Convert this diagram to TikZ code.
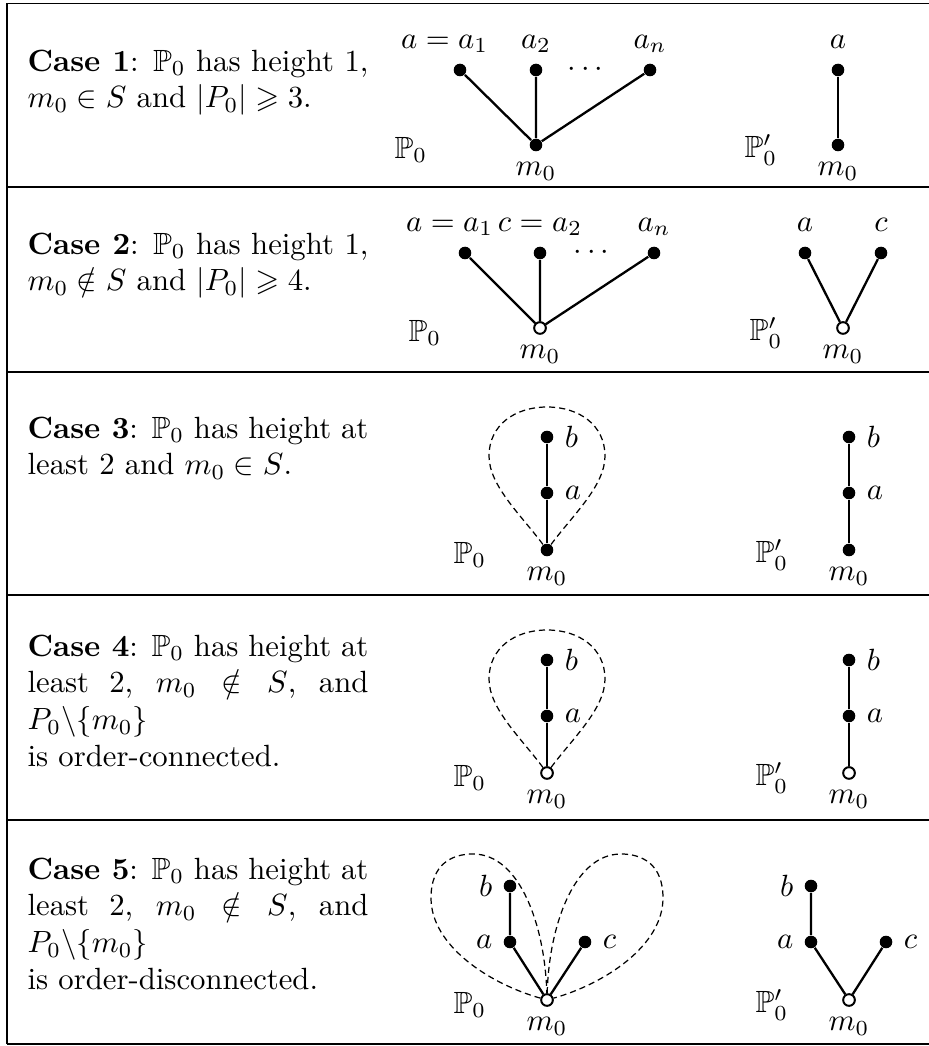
\documentclass[tikz,border=0pt]{standalone}
\usepackage{amsmath,amssymb}
\usetikzlibrary{calc,positioning}
\tikzset{
  fulldot/.style={circle, fill, inner sep=0pt, minimum size=4.1pt},
  opendot/.style={circle, draw, fill=white, line width=0.65pt, inner sep=0pt, minimum size=3.8pt},
  poline/.style={line width=0.75pt},
  hull/.style={line width=0.4pt, dash pattern=on 2pt off 1.3pt},
  rowrule/.style={line width=0.5pt},
  casetext/.style={anchor=north west, inner sep=0pt, text width=111pt, align=justify},
  lab/.style={text depth=0.3ex}
}
\newcommand{\hulldrop}[1]{% dashed teardrop above the minimum #1
  \draw[hull] (#1) .. controls ($(#1)+(-25,34)$) and ($(#1)+(-58,64)$) .. ($(#1)+(-58,94)$)
    .. controls ($(#1)+(-58,125)$) and ($(#1)+(-32,143)$) .. ($(#1)+(0,143)$)
    .. controls ($(#1)+(32,143)$) and ($(#1)+(58,125)$) .. ($(#1)+(58,94)$)
    .. controls ($(#1)+(58,64)$) and ($(#1)+(25,34)$) .. (#1);
}
\begin{document}
\begin{tikzpicture}[x=0.3257pt,y=0.3257pt]
  \useasboundingbox (0,0) rectangle (929,1046);
  % table rules
  \foreach \y in {1042.5,859,674,451,226,2}
    \draw[rowrule] (7,\y) -- (929,\y);
  \draw[rowrule] (7,2) -- (7,1042.5);

  % case texts
  \node[casetext] (t1) at (27,997) {\textbf{Case 1}: $\mathbb{P}_0$ has height 1,\linebreak $m_0\in S$ and $|P_0|\geqslant 3$.};
  \node[casetext] (t2) at (27,814) {\textbf{Case 2}: $\mathbb{P}_0$ has height 1,\linebreak $m_0\notin S$ and $|P_0|\geqslant 4$.};
  \node[casetext] (t3) at (27,630) {\textbf{Case 3}: $\mathbb{P}_0$ has height at\linebreak least 2 and $m_0\in S$.};
  \node[casetext] (t4) at (27,412) {\textbf{Case 4}: $\mathbb{P}_0$ has height at\linebreak least 2, $m_0\notin S$, and\linebreak $P_0\backslash\{m_0\}$\newline is order-connected.};
  \node[casetext] (t5) at (27,189) {\textbf{Case 5}: $\mathbb{P}_0$ has height at\linebreak least 2, $m_0\notin S$, and\linebreak $P_0\backslash\{m_0\}$\newline is order-disconnected.};

  % case 1
  \node[fulldot] (a1) at (460,976) {};
  \node[fulldot] (a2) at (536,976) {};
  \node[fulldot] (an) at (650,976) {};
  \node[fulldot] (m1) at (536,901) {};
  \draw[poline] (a1) -- (m1) (a2) -- (m1) (an) -- (m1);
  \node[lab, above=0pt of a1, xshift=-5pt] (la1) {$a=a_1$};
  \node[lab, above=0pt of a2] (la2) {$a_2$};
  \node[lab, above=0pt of an] (lan) {$a_n$};
  \node (d1) at (588,976) {$\cdots$};
  \node[below=0pt of m1] (lm1) {$m_0$};
  \node (P1) at (411,896) {$\mathbb{P}_0$};
  \node[fulldot] (q1a) at (838,976) {};
  \node[fulldot] (q1m) at (838,901) {};
  \draw[poline] (q1a) -- (q1m);
  \node[lab, above=0pt of q1a] (lq1a) {$a$};
  \node[below=0pt of q1m] (lq1m) {$m_0$};
  \node (Q1) at (761,896) {$\mathbb{P}'_0$};

  % case 2
  \node[fulldot] (b1) at (465,793) {};
  \node[fulldot] (b2) at (540,793) {};
  \node[fulldot] (bn) at (654,793) {};
  \node[opendot] (m2) at (540,718) {};
  \draw[poline] (b1) -- (m2) (b2) -- (m2) (bn) -- (m2);
  \node[lab, above=0pt of b1, xshift=-5pt] (lb1) {$a=a_1$};
  \node[lab, above=0pt of b2] (lb2) {$c=a_2$};
  \node[lab, above=0pt of bn] (lbn) {$a_n$};
  \node (d2) at (594,793) {$\cdots$};
  \node[below=0pt of m2] (lm2) {$m_0$};
  \node (P2) at (425,713) {$\mathbb{P}_0$};
  \node[fulldot] (q2a) at (805,793) {};
  \node[fulldot] (q2c) at (881,793) {};
  \node[opendot] (q2m) at (843,718) {};
  \draw[poline] (q2a) -- (q2m) -- (q2c);
  \node[lab, above=0pt of q2a] (lq2a) {$a$};
  \node[lab, above=0pt of q2c] (lq2c) {$c$};
  \node[below=0pt of q2m] (lq2m) {$m_0$};
  \node (Q2) at (766,713) {$\mathbb{P}'_0$};

  % case 3
  \node[fulldot] (b3) at (547,609) {};
  \node[fulldot] (a3) at (547,553) {};
  \node[fulldot] (m3) at (547,496) {};
  \draw[poline] (b3) -- (a3) -- (m3);
  \hulldrop{m3}
  \node[right=0pt of b3] (lb3) {$b$};
  \node[right=0pt of a3] (la3) {$a$};
  \node[below=0pt of m3] (lm3) {$m_0$};
  \node (P3) at (470,491) {$\mathbb{P}_0$};
  \node[fulldot] (q3b) at (849,609) {};
  \node[fulldot] (q3a) at (849,553) {};
  \node[fulldot] (q3m) at (849,496) {};
  \draw[poline] (q3b) -- (q3a) -- (q3m);
  \node[right=0pt of q3b] (lq3b) {$b$};
  \node[right=0pt of q3a] (lq3a) {$a$};
  \node[below=0pt of q3m] (lq3m) {$m_0$};
  \node (Q3) at (772,491) {$\mathbb{P}'_0$};

  % case 4
  \node[fulldot] (b4) at (547,386) {};
  \node[fulldot] (a4) at (547,330) {};
  \node[opendot] (m4) at (547,273) {};
  \draw[poline] (b4) -- (a4) -- (m4);
  \hulldrop{m4}
  \node[right=0pt of b4] (lb4) {$b$};
  \node[right=0pt of a4] (la4) {$a$};
  \node[below=0pt of m4] (lm4) {$m_0$};
  \node (P4) at (470,268) {$\mathbb{P}_0$};
  \node[fulldot] (q4b) at (849,386) {};
  \node[fulldot] (q4a) at (849,330) {};
  \node[opendot] (q4m) at (849,273) {};
  \draw[poline] (q4b) -- (q4a) -- (q4m);
  \node[right=0pt of q4b] (lq4b) {$b$};
  \node[right=0pt of q4a] (lq4a) {$a$};
  \node[below=0pt of q4m] (lq4m) {$m_0$};
  \node (Q4) at (772,268) {$\mathbb{P}'_0$};

  % case 5
  \node[fulldot] (b5) at (510,160) {};
  \node[fulldot] (a5) at (510,104) {};
  \node[fulldot] (c5) at (585,104) {};
  \node[opendot] (m5) at (547,46) {};
  \draw[poline] (b5) -- (a5) -- (m5) -- (c5);
  \draw[hull] (m5) .. controls ($(m5)+(-57,16)$) and ($(m5)+(-116,54)$) .. ($(m5)+(-116,102)$)
    .. controls ($(m5)+(-116,136)$) and ($(m5)+(-95,146)$) .. ($(m5)+(-74,146)$)
    .. controls ($(m5)+(-27,146)$) and ($(m5)+(-2,74)$) .. (m5);
  \draw[hull] (m5) .. controls ($(m5)+(2,74)$) and ($(m5)+(27,146)$) .. ($(m5)+(74,146)$)
    .. controls ($(m5)+(95,146)$) and ($(m5)+(116,136)$) .. ($(m5)+(116,102)$)
    .. controls ($(m5)+(116,54)$) and ($(m5)+(57,16)$) .. (m5);
  \node[left=0pt of b5] (lb5) {$b$};
  \node[left=0pt of a5] (la5) {$a$};
  \node[right=0pt of c5] (lc5) {$c$};
  \node[below=0pt of m5] (lm5) {$m_0$};
  \node (P5) at (470,41) {$\mathbb{P}_0$};
  \node[fulldot] (q5b) at (811,160) {};
  \node[fulldot] (q5a) at (811,104) {};
  \node[fulldot] (q5c) at (886,104) {};
  \node[opendot] (q5m) at (849,46) {};
  \draw[poline] (q5b) -- (q5a) -- (q5m) -- (q5c);
  \node[left=0pt of q5b] (lq5b) {$b$};
  \node[left=0pt of q5a] (lq5a) {$a$};
  \node[right=0pt of q5c] (lq5c) {$c$};
  \node[below=0pt of q5m] (lq5m) {$m_0$};
  \node (Q5) at (772,41) {$\mathbb{P}'_0$};
\end{tikzpicture}
\end{document}
